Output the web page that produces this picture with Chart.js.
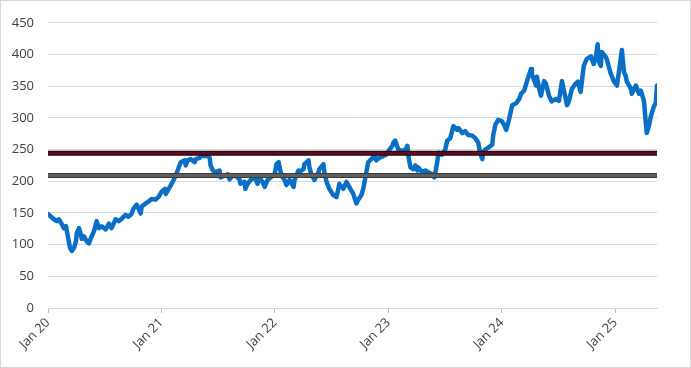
<!DOCTYPE html>
<html>
<head>
<meta charset="utf-8">
<script src="https://cdn.jsdelivr.net/npm/chart.js@4"></script>
<style>
    html, body { margin: 0; padding: 0; background: #fff; }
    #wrap { width: 691px; height: 368px; box-sizing: border-box; border: 1px solid #d9d9d9; }
</style>
</head>
<body>
<div id="wrap"><canvas id="graphCanvas" width="689" height="366"></canvas></div>
<script>
var dates = [
    '2020-01-02','2020-01-11','2020-01-20','2020-01-30','2020-02-05','2020-02-15','2020-02-21','2020-02-28',
    '2020-03-02','2020-03-08','2020-03-12','2020-03-18','2020-03-25','2020-03-31','2020-04-03','2020-04-10',
    '2020-04-16','2020-04-19','2020-04-26','2020-05-05','2020-05-12','2020-05-18','2020-05-28','2020-06-06',
    '2020-06-13','2020-06-22','2020-07-05','2020-07-15','2020-07-24','2020-08-06','2020-08-16','2020-08-26',
    '2020-09-07','2020-09-17','2020-09-27','2020-10-03','2020-10-13','2020-10-26','2020-10-29','2020-11-11',
    '2020-11-20','2020-11-30','2020-12-13','2020-12-22',
    '2021-01-01','2021-01-12','2021-01-15','2021-01-28','2021-02-06','2021-02-16','2021-02-22','2021-03-04',
    '2021-03-17','2021-03-20','2021-03-26','2021-04-05','2021-04-18','2021-04-21','2021-05-04','2021-05-07',
    '2021-05-20','2021-05-30','2021-06-05','2021-06-08','2021-06-15','2021-06-24','2021-07-07','2021-07-10',
    '2021-07-23','2021-08-02','2021-08-08','2021-08-18','2021-08-27','2021-09-09','2021-09-12','2021-09-25',
    '2021-09-28','2021-10-05','2021-10-15','2021-10-27','2021-11-06','2021-11-12','2021-11-22','2021-11-29',
    '2021-12-08','2021-12-18','2021-12-31',
    '2022-01-06','2022-01-13','2022-01-16','2022-01-22','2022-02-01','2022-02-07','2022-02-17','2022-03-02',
    '2022-03-05','2022-03-18','2022-03-21','2022-04-03','2022-04-06','2022-04-19','2022-04-22','2022-04-28',
    '2022-05-08','2022-05-21','2022-05-24','2022-06-06','2022-06-09','2022-06-16','2022-06-25','2022-07-08',
    '2022-07-18','2022-07-24','2022-07-27','2022-08-09','2022-08-19','2022-08-28','2022-09-10','2022-09-20',
    '2022-09-26','2022-10-06','2022-10-12','2022-10-22','2022-10-28','2022-11-07','2022-11-17','2022-11-23',
    '2022-12-03','2022-12-16','2022-12-25',
    '2023-01-04','2023-01-14','2023-01-17','2023-01-23','2023-02-02','2023-02-15','2023-02-25','2023-03-03',
    '2023-03-06','2023-03-13','2023-03-22','2023-03-29','2023-04-04','2023-04-07','2023-04-20','2023-04-30',
    '2023-05-09','2023-05-22','2023-05-29','2023-06-07','2023-06-11','2023-06-23','2023-07-03','2023-07-09',
    '2023-07-19','2023-07-29','2023-08-10','2023-08-14','2023-08-27','2023-09-05','2023-09-15','2023-09-28',
    '2023-10-07','2023-10-17','2023-10-23','2023-10-30','2023-11-02','2023-11-08','2023-11-18','2023-12-01',
    '2023-12-04','2023-12-11','2023-12-20',
    '2024-01-01','2024-01-08','2024-01-15','2024-01-24','2024-02-03','2024-02-16','2024-02-26','2024-03-03',
    '2024-03-13','2024-03-22','2024-04-04','2024-04-07','2024-04-20','2024-04-23','2024-04-30','2024-05-06',
    '2024-05-16','2024-05-22','2024-06-01','2024-06-10','2024-06-23','2024-07-03','2024-07-13','2024-07-19',
    '2024-07-25','2024-07-29','2024-08-04','2024-08-14','2024-08-26','2024-09-02','2024-09-11','2024-09-21',
    '2024-10-01','2024-10-14','2024-10-23','2024-10-30','2024-11-05','2024-11-08','2024-11-15','2024-11-18',
    '2024-12-01','2024-12-04','2024-12-17','2024-12-27',
    '2025-01-06','2025-01-13','2025-01-19','2025-01-22','2025-01-29','2025-02-04','2025-02-07','2025-02-20',
    '2025-02-23','2025-03-08','2025-03-18','2025-03-24','2025-04-03','2025-04-09','2025-04-12','2025-04-19',
    '2025-04-25','2025-05-05','2025-05-11','2025-05-15'
];

var prices = [
    148,144,140,137,140,132,126,129,
    121,105,95,90,95,105,118,126,
    116,109,113,105,102,110,121,137,
    126,129,124,133,126,140,137,141,
    147,144,149,157,163,149,160,165,
    168,172,171,175,
    183,188,180,191,199,209,217,230,
    233,225,233,235,230,235,237,240,
    240,240,237,225,217,214,217,206,
    209,211,203,209,209,203,196,199,
    188,196,202,206,196,206,199,191,
    202,206,211,
    227,230,222,209,202,194,202,191,
    202,217,215,219,227,233,222,211,
    202,214,219,227,214,199,188,178,
    175,188,196,188,199,191,180,165,
    171,178,188,214,230,235,240,233,
    237,240,242,
    250,256,261,264,250,248,250,256,
    240,222,219,225,217,222,214,217,
    214,211,206,230,245,242,250,264,
    268,287,281,284,276,279,273,272,
    268,261,245,235,245,250,253,258,
    272,289,297,
    295,289,281,297,320,323,330,338,
    343,358,377,369,351,365,346,335,
    358,354,335,326,330,327,358,343,
    330,320,326,346,354,357,341,382,
    393,397,385,396,416,390,382,404,
    396,393,370,358,
    351,374,396,407,372,365,357,346,
    338,351,338,343,327,292,276,287,
    302,318,323,351
];

var years = [2020, 2021, 2022, 2023, 2024, 2025];
var redLevel = 244;
var grayLevel = 209;

function toYear(s) {
    var p = s.split('-');
    var y = +p[0];
    var start = Date.UTC(y, 0, 1);
    var end = Date.UTC(y + 1, 0, 1);
    return y + (Date.UTC(y, +p[1] - 1, +p[2]) - start) / (end - start);
}

var points = [];
for (var i in dates) {
    points.push({ x: toYear(dates[i]), y: prices[i] });
}
var xMin = years[0];
var xMax = points[points.length - 1].x;

function level(v) {
    return [{ x: xMin, y: v }, { x: xMax, y: v }];
}

var font = { family: 'Open Sans', size: 13 };

new Chart(document.getElementById('graphCanvas'), {
    type: 'line',
    data: {
        datasets: [
            {
                data: points, borderColor: '#0b6fc6', borderWidth: 4.5, pointRadius: 0, tension: 0,
                borderJoinStyle: 'round', borderCapStyle: 'round', order: 5
            },
            { data: level(redLevel), borderColor: '#1a0408', borderWidth: 5, pointRadius: 0, order: 2 },
            { data: level(redLevel), borderColor: '#5e0c22', borderWidth: 3, pointRadius: 0, order: 1 },
            { data: level(grayLevel), borderColor: '#3a3a3a', borderWidth: 5, pointRadius: 0, order: 4 },
            { data: level(grayLevel), borderColor: '#5f5f5f', borderWidth: 3, pointRadius: 0, order: 3 }
        ]
    },
    options: {
        responsive: false,
        animation: false,
        layout: { padding: { top: 17, right: 33, left: 0, bottom: 0 } },
        plugins: { legend: { display: false }, tooltip: { enabled: false } },
        scales: {
            x: {
                type: 'linear',
                min: xMin,
                max: xMax,
                afterBuildTicks: function (s) {
                    s.ticks = years.map(function (y) { return { value: y }; });
                },
                afterFit: function (s) { s.height = 59; },
                grid: { drawOnChartArea: false, drawTicks: true, tickLength: 5, color: '#bfbfbf' },
                border: { color: '#d9d9d9' },
                ticks: {
                    autoSkip: false,
                    maxRotation: 45,
                    minRotation: 45,
                    padding: 2,
                    color: '#404040',
                    font: font,
                    callback: function (v) { return 'Jan ' + String(v).slice(2); }
                }
            },
            y: {
                min: 0,
                max: 450,
                afterFit: function (s) { s.width = 47; },
                grid: { color: '#d9d9d9', drawTicks: false },
                border: { display: false },
                ticks: { stepSize: 50, padding: 14, color: '#404040', font: font }
            }
        }
    }
});
</script>
</body>
</html>
